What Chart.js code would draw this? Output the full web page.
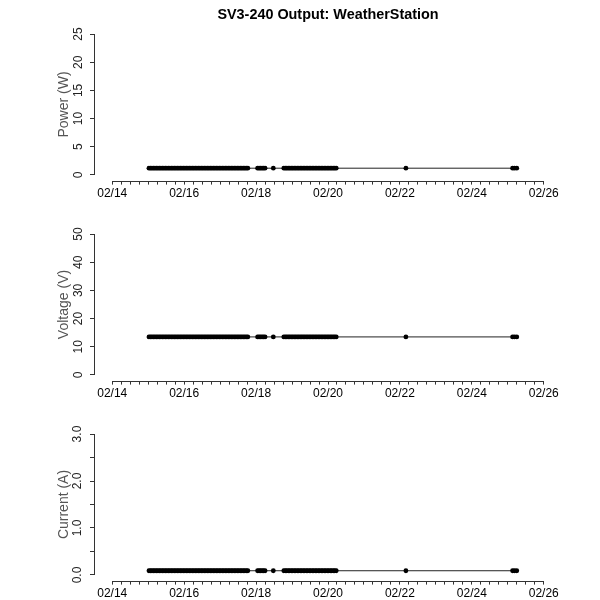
<!DOCTYPE html>
<html>
<head>
<meta charset="utf-8">
<title>SV3-240 Output: WeatherStation</title>
<script src="https://cdn.jsdelivr.net/npm/chart.js@4.4.1/dist/chart.umd.min.js"></script>
<style>
  body { margin: 0; background: #fff; }
  .panel { width: 600px; height: 200px; }
</style>
</head>
<body>
<div class="panel"><canvas id="power" width="600" height="200"></canvas></div>
<div class="panel"><canvas id="voltage" width="600" height="200"></canvas></div>
<div class="panel"><canvas id="current" width="600" height="200"></canvas></div>
<script>
// sample times, hours after 02/14 00:00
const hours = [
  24.5, 25.5, 26.5, 27.5, 28.5, 29.5, 30.5, 31.5, 32.5, 33.5,
  34.5, 35.5, 36.5, 37.5, 38.5, 39.5, 40.5, 41.5, 42.5, 43.5,
  44.5, 45.5, 46.5, 47.5, 48.5, 49.5, 50.5, 51.5, 52.5, 53.5,
  54.5, 55.5, 56.5, 57.5, 58.5, 59.5, 60.5, 61.5, 62.5, 63.5,
  64.5, 65.5, 66.5, 67.5, 68.5, 69.5, 70.5, 71.5, 72.5, 73.5,
  74.5, 75.5, 76.5, 77.5, 78.5, 79.5, 80.5, 81.5, 82.5, 83.5,
  84.5, 85.5, 86.5, 87.5, 88.5, 89.5, 90.5,
  97, 98, 99, 100, 101, 102,
  107.5,
  114.5, 115.5, 116.5, 117.5, 118.5, 119.5, 120.5, 121.5, 122.5, 123.5,
  124.5, 125.5, 126.5, 127.5, 128.5, 129.5, 130.5, 131.5, 132.5, 133.5,
  134.5, 135.5, 136.5, 137.5, 138.5, 139.5, 140.5, 141.5, 142.5, 143.5,
  144.5, 145.5, 146.5, 147.5, 148.5, 149.5,
  196,
  267.2, 268.5, 270
];
const power = [
  1.2, 1.2, 1.2, 1.2, 1.2, 1.2, 1.2, 1.2, 1.2, 1.2,
  1.2, 1.2, 1.2, 1.2, 1.2, 1.2, 1.2, 1.2, 1.2, 1.2,
  1.2, 1.2, 1.2, 1.2, 1.2, 1.2, 1.2, 1.2, 1.2, 1.2,
  1.2, 1.2, 1.2, 1.2, 1.2, 1.2, 1.2, 1.2, 1.2, 1.2,
  1.2, 1.2, 1.2, 1.2, 1.2, 1.2, 1.2, 1.2, 1.2, 1.2,
  1.2, 1.2, 1.2, 1.2, 1.2, 1.2, 1.2, 1.2, 1.2, 1.2,
  1.2, 1.2, 1.2, 1.2, 1.2, 1.2, 1.2,
  1.2, 1.2, 1.2, 1.2, 1.2, 1.2,
  1.2,
  1.2, 1.2, 1.2, 1.2, 1.2, 1.2, 1.2, 1.2, 1.2, 1.2,
  1.2, 1.2, 1.2, 1.2, 1.2, 1.2, 1.2, 1.2, 1.2, 1.2,
  1.2, 1.2, 1.2, 1.2, 1.2, 1.2, 1.2, 1.2, 1.2, 1.2,
  1.2, 1.2, 1.2, 1.2, 1.2, 1.2,
  1.2,
  1.2, 1.2, 1.2
];
const voltage = [
  13.5, 13.5, 13.5, 13.5, 13.5, 13.5, 13.5, 13.5, 13.5, 13.5,
  13.5, 13.5, 13.5, 13.5, 13.5, 13.5, 13.5, 13.5, 13.5, 13.5,
  13.5, 13.5, 13.5, 13.5, 13.5, 13.5, 13.5, 13.5, 13.5, 13.5,
  13.5, 13.5, 13.5, 13.5, 13.5, 13.5, 13.5, 13.5, 13.5, 13.5,
  13.5, 13.5, 13.5, 13.5, 13.5, 13.5, 13.5, 13.5, 13.5, 13.5,
  13.5, 13.5, 13.5, 13.5, 13.5, 13.5, 13.5, 13.5, 13.5, 13.5,
  13.5, 13.5, 13.5, 13.5, 13.5, 13.5, 13.5,
  13.5, 13.5, 13.5, 13.5, 13.5, 13.5,
  13.5,
  13.5, 13.5, 13.5, 13.5, 13.5, 13.5, 13.5, 13.5, 13.5, 13.5,
  13.5, 13.5, 13.5, 13.5, 13.5, 13.5, 13.5, 13.5, 13.5, 13.5,
  13.5, 13.5, 13.5, 13.5, 13.5, 13.5, 13.5, 13.5, 13.5, 13.5,
  13.5, 13.5, 13.5, 13.5, 13.5, 13.5,
  13.5,
  13.5, 13.5, 13.5
];
const current = [
  0.09, 0.09, 0.09, 0.09, 0.09, 0.09, 0.09, 0.09, 0.09, 0.09,
  0.09, 0.09, 0.09, 0.09, 0.09, 0.09, 0.09, 0.09, 0.09, 0.09,
  0.09, 0.09, 0.09, 0.09, 0.09, 0.09, 0.09, 0.09, 0.09, 0.09,
  0.09, 0.09, 0.09, 0.09, 0.09, 0.09, 0.09, 0.09, 0.09, 0.09,
  0.09, 0.09, 0.09, 0.09, 0.09, 0.09, 0.09, 0.09, 0.09, 0.09,
  0.09, 0.09, 0.09, 0.09, 0.09, 0.09, 0.09, 0.09, 0.09, 0.09,
  0.09, 0.09, 0.09, 0.09, 0.09, 0.09, 0.09,
  0.09, 0.09, 0.09, 0.09, 0.09, 0.09,
  0.09,
  0.09, 0.09, 0.09, 0.09, 0.09, 0.09, 0.09, 0.09, 0.09, 0.09,
  0.09, 0.09, 0.09, 0.09, 0.09, 0.09, 0.09, 0.09, 0.09, 0.09,
  0.09, 0.09, 0.09, 0.09, 0.09, 0.09, 0.09, 0.09, 0.09, 0.09,
  0.09, 0.09, 0.09, 0.09, 0.09, 0.09,
  0.09,
  0.09, 0.09, 0.09
];

// x axis: days after 02/14
const dayTicks = [0, 2, 4, 6, 8, 10, 12];
const dayLabels = ['02/14', '02/16', '02/18', '02/20', '02/22', '02/24', '02/26'];
const powerTicks = [0, 5, 10, 15, 20, 25];
const powerLabels = ['0', '5', '10', '15', '20', '25'];
const voltageTicks = [0, 10, 20, 30, 40, 50];
const voltageLabels = ['0', '10', '20', '30', '40', '50'];
const currentTicks = [0, 0.5, 1, 1.5, 2, 2.5, 3];
const currentLabels = ['0.0', '', '1.0', '', '2.0', '', '3.0'];

const FONT = '"Liberation Sans", Arial, Helvetica, sans-serif';

// minor ticks every 6 hours between first and last labelled day
const minorTicks = [];
for (let d = dayTicks[0]; d <= dayTicks[dayTicks.length - 1] + 1e-9; d += 0.25) minorTicks.push(d);

// R-style axis lines: only from first to last tick
const axisLines = {
  id: 'axisLines',
  afterDraw(chart) {
    const { ctx, chartArea, scales: { x, y } } = chart;
    const xt = x.ticks, yt = y.ticks;
    ctx.save();
    ctx.strokeStyle = '#333';
    ctx.lineWidth = 1;
    ctx.beginPath();
    const by = Math.round(chartArea.bottom) + 0.5;
    ctx.moveTo(x.getPixelForValue(xt[0].value), by);
    ctx.lineTo(x.getPixelForValue(xt[xt.length - 1].value), by);
    const lx = Math.round(chartArea.left) - 0.5;
    ctx.moveTo(lx, y.getPixelForValue(yt[0].value));
    ctx.lineTo(lx, y.getPixelForValue(yt[yt.length - 1].value));
    ctx.stroke();
    ctx.restore();
  }
};

function makePanel(id, yTitle, values, yTicks, yLabels, labelPad, mainTitle) {
  const lo = yTicks[0], hi = yTicks[yTicks.length - 1];
  const ext = (hi - lo) * 0.04;
  const xlo = dayTicks[0], xhi = dayTicks[dayTicks.length - 1];
  const xext = (xhi - xlo) * 0.04;
  return new Chart(document.getElementById(id), {
    type: 'line',
    data: {
      datasets: [{
        data: hours.map((h, i) => ({ x: h / 24, y: values[i] })),
        borderColor: '#222',
        borderWidth: 1,
        pointRadius: 2.4,
        pointBorderWidth: 0,
        pointBackgroundColor: '#000',
        tension: 0
      }]
    },
    options: {
      responsive: false,
      animation: false,
      events: [],
      devicePixelRatio: 1,
      layout: {
        autoPadding: false,
        padding: { left: 0, right: 39, top: mainTitle ? 0 : 28.4, bottom: 0 }
      },
      plugins: {
        legend: { display: false },
        tooltip: { enabled: false },
        title: {
          display: !!mainTitle,
          text: mainTitle || '',
          fullSize: false,
          color: '#000',
          font: { family: FONT, size: 14.4, weight: 'bold' },
          padding: { top: 6.4, bottom: 4.7 }
        }
      },
      scales: {
        x: {
          type: 'linear',
          min: xlo - xext,
          max: xhi + xext,
          afterBuildTicks: s => { s.ticks = minorTicks.map(v => ({ value: v })); },
          afterFit: s => { s.height = 19.4; },
          border: { display: false },
          grid: { display: true, drawOnChartArea: false, drawTicks: true, tickLength: 4, color: '#333' },
          ticks: {
            autoSkip: false,
            maxRotation: 0,
            padding: 2,
            color: '#000',
            font: { family: FONT, size: 12 },
            callback: v => {
              const k = dayTicks.findIndex(d => Math.abs(d - v) < 1e-6);
              return k >= 0 ? dayLabels[k] : '';
            }
          }
        },
        y: {
          type: 'linear',
          min: lo - ext,
          max: hi + ext,
          afterBuildTicks: s => { s.ticks = yTicks.map(v => ({ value: v })); },
          afterFit: s => { s.width = 95; },
          border: { display: false },
          grid: { display: true, drawOnChartArea: false, drawTicks: true, tickLength: 5, color: '#333' },
          title: {
            display: true,
            text: yTitle,
            color: '#555',
            font: { family: FONT, size: 14 },
            padding: { top: 55.6, bottom: 0 }
          },
          ticks: {
            autoSkip: false,
            minRotation: 90,
            maxRotation: 90,
            crossAlign: 'center',
            padding: labelPad,
            color: '#222',
            font: { family: FONT, size: 12 },
            callback: v => {
              const k = yTicks.findIndex(t => Math.abs(t - v) < 1e-9);
              return k >= 0 ? yLabels[k] : '';
            }
          }
        }
      }
    },
    plugins: [axisLines]
  });
}

makePanel('power', 'Power (W)', power, powerTicks, powerLabels, 5, 'SV3-240 Output: WeatherStation');
makePanel('voltage', 'Voltage (V)', voltage, voltageTicks, voltageLabels, 5);
makePanel('current', 'Current (A)', current, currentTicks, currentLabels, 4);
</script>
</body>
</html>
